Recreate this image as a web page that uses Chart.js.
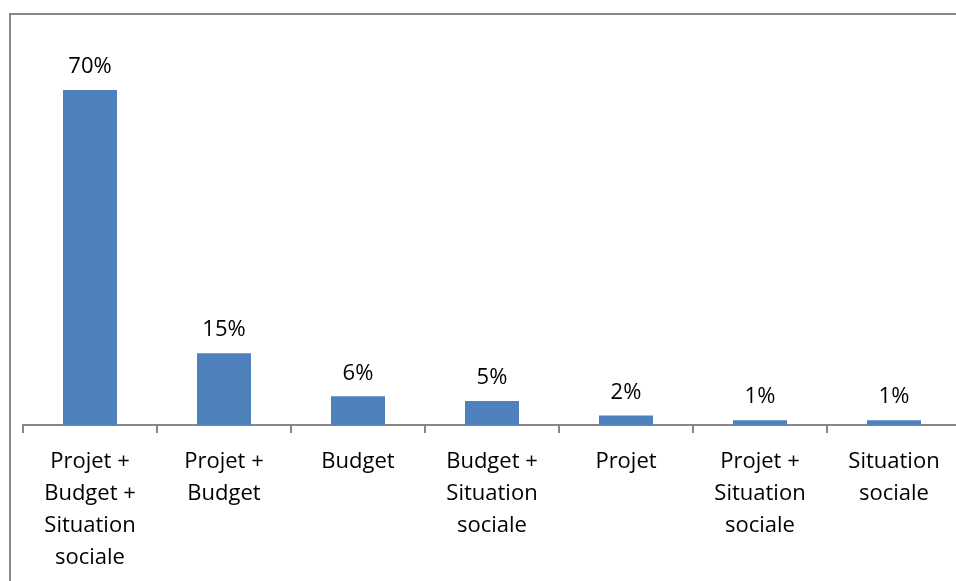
<!DOCTYPE html>
<html>
<head>
<meta charset="utf-8">
<script src="https://cdn.jsdelivr.net/npm/chart.js@4"></script>
<style>
    html, body { margin: 0; padding: 0; background: #fff; overflow: hidden; width: 956px; height: 581px; }
    #frame { position: absolute; left: 9px; top: 13px; width: 1100px; height: 700px; border: 2px solid #878787; }
    #chart { position: absolute; left: 0; top: 0; }
</style>
</head>
<body>
<div id="frame"></div>
<canvas id="chart" width="1000" height="600"></canvas>
<script>
// Categories (multi-line labels)
const categories = [
    ['Projet +', 'Budget +', 'Situation', 'sociale'],
    ['Projet +', 'Budget'],
    ['Budget'],
    ['Budget +', 'Situation', 'sociale'],
    ['Projet'],
    ['Projet +', 'Situation', 'sociale'],
    ['Situation', 'sociale']
];

// Values in percent
const values = [70, 15, 6, 5, 2, 1, 1];

// Labels on top of bars
const valueLabels = ['70%', '15%', '6%', '5%', '2%', '1%', '1%'];

// Plugin: draw value labels above bars
const barLabels = {
    id: 'barLabels',
    afterDatasetsDraw(chart) {
        const ctx = chart.ctx;
        const meta = chart.getDatasetMeta(0);
        ctx.save();
        ctx.font = '22px "Open Sans", sans-serif';
        ctx.fillStyle = '#000';
        ctx.textAlign = 'center';
        ctx.textBaseline = 'bottom';
        meta.data.forEach((bar, i) => {
            ctx.fillText(valueLabels[i], bar.x, bar.y - 12);
        });
        ctx.restore();
    }
};

const ctx = document.getElementById('chart').getContext('2d');
new Chart(ctx, {
    type: 'bar',
    data: {
        labels: categories,
        datasets: [{
            data: values,
            backgroundColor: '#4f81bd',
            borderWidth: 0,
            categoryPercentage: 1,
            barPercentage: 0.403
        }]
    },
    options: {
        responsive: false,
        animation: false,
        layout: { padding: { left: 23, right: 39, top: 42, bottom: 25 } },
        plugins: {
            legend: { display: false },
            tooltip: { enabled: false }
        },
        scales: {
            x: {
                grid: {
                    offset: true,
                    drawOnChartArea: false,
                    drawTicks: true,
                    tickLength: 8,
                    color: '#878787',
                    lineWidth: 2
                },
                border: { color: '#878787', width: 2 },
                ticks: {
                    color: '#000',
                    padding: 13,
                    maxRotation: 0,
                    autoSkip: false,
                    font: { family: '"Open Sans", sans-serif', size: 22, lineHeight: 1.45 }
                },
                afterFit(scale) { scale.height = 150; }
            },
            y: {
                display: false,
                min: 0,
                max: 80
            }
        }
    },
    plugins: [barLabels]
});
</script>
</body>
</html>
